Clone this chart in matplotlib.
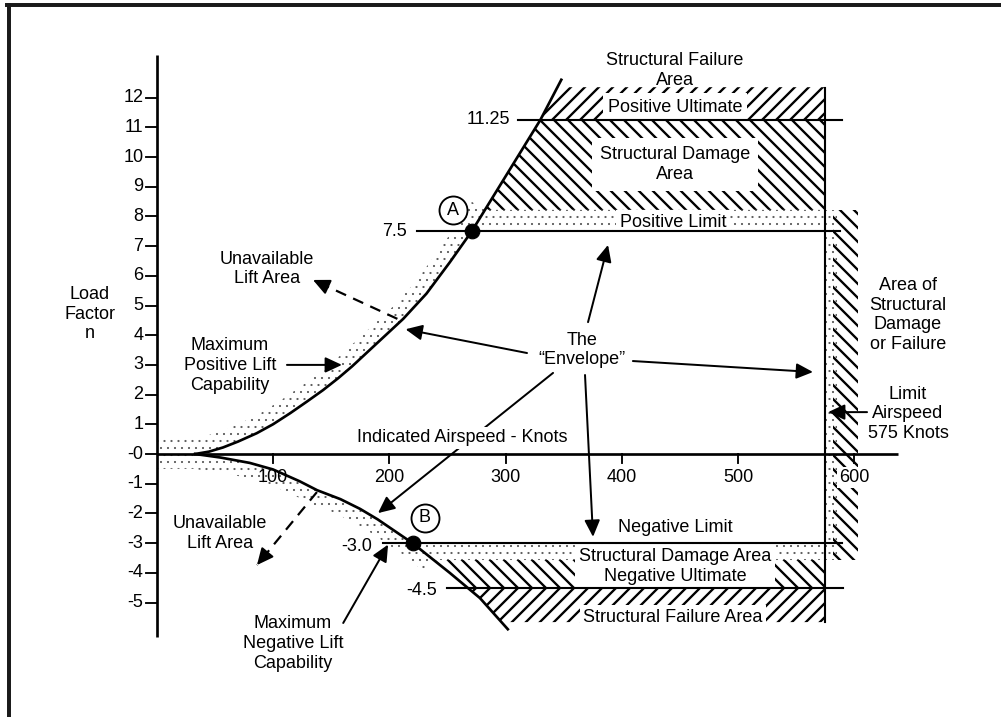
import numpy as np
import matplotlib
matplotlib.use("Agg")
import matplotlib.pyplot as plt
from matplotlib.patches import Polygon, FancyArrowPatch
from matplotlib.lines import Line2D

plt.rcParams['font.family'] = ['Liberation Sans', 'DejaVu Sans']
plt.rcParams['hatch.linewidth'] = 2.0

# ---------------- data ----------------
y_ticks = [12, 11, 10, 9, 8, 7, 6, 5, 4, 3, 2, 1, 0, -1, -2, -3, -4, -5]
y_tick_labels = ['12', '11', '10', '9', '8', '7', '6', '5', '4', '3', '2', '1',
                 '-0', '-1', '-2', '-3', '-4', '-5']
x_ticks = [100, 200, 300, 400, 500, 600]
x_tick_labels = ['100', '200', '300', '400', '500', '600']

# maximum positive lift capability (knots, load factor)
pos_V = [33, 45, 57, 70, 86, 100, 115, 129, 143, 156, 168, 190, 212, 232, 252, 271, 330, 348]
pos_n = [0, 0.08, 0.22, 0.42, 0.70, 1.0, 1.38, 1.76, 2.15, 2.55, 2.95, 3.75, 4.55,
         5.4, 6.45, 7.5, 11.25, 12.6]
# maximum negative lift capability
neg_V = [33, 55, 80, 100, 123, 138, 158, 175, 190, 205, 220, 236, 252, 278, 302]
neg_n = [0, -0.12, -0.30, -0.52, -0.92, -1.22, -1.52, -1.85, -2.2, -2.6, -3.0, -3.5,
         -4.0, -4.85, -5.9]

pos_limit = 7.5
pos_ultimate = 11.25
neg_limit = -3.0
neg_ultimate = -4.5
limit_airspeed = 575
point_A = (271, 7.5)
point_B = (220, -3.0)

# ---------------- layout ----------------
DPI = 84
W, H = 1001, 717
X0PX, XS = 156.75, 1.1625     # pixel of V=0, pixels per knot
Y0PX, YS = 454.0, 29.7        # pixel row of n=0, pixels per unit n
FS = 15.4

fig = plt.figure(figsize=(W / DPI, H / DPI), dpi=DPI)
ax = fig.add_axes([0, 0, 1, 1])
ax.set_xlim(-X0PX / XS, (W - X0PX) / XS)
ax.set_ylim(-(H - Y0PX) / YS, Y0PX / YS)
ax.axis('off')

# outer frame (top and left edges visible)
fig.add_artist(Line2D([7 / W, 1], [1 - 5 / H, 1 - 5 / H], transform=fig.transFigure,
                      color='#1a1a1a', lw=3.4))
fig.add_artist(Line2D([9 / W, 9 / W], [0, 1 - 5 / H], transform=fig.transFigure,
                      color='#1a1a1a', lw=3.4))

band_top = 8.22      # top of positive limit stipple band
band_bot = -3.57     # bottom of negative limit stipple band
hatch_top = 12.35
hatch_bot = -5.66
LW_MAIN = 2.3
LW_LINE = 1.8
STIP = '#555555'


def curve_segment(Vs, ns, n_lo, n_hi):
    Vs, ns = np.asarray(Vs, float), np.asarray(ns, float)
    o = np.argsort(ns)
    nsrt, Vsrt = ns[o], Vs[o]
    inside = (nsrt > n_lo) & (nsrt < n_hi)
    return (np.r_[np.interp(n_lo, nsrt, Vsrt), Vsrt[inside], np.interp(n_hi, nsrt, Vsrt)],
            np.r_[n_lo, nsrt[inside], n_hi])


def offset_curve(Vs, ns, width_px):
    P = ax.transData.transform(np.c_[Vs, ns])
    T = np.gradient(P, axis=0)
    T /= np.linalg.norm(T, axis=1)[:, None]
    N = np.c_[-T[:, 1], T[:, 0]]
    return ax.transData.inverted().transform(P + width_px * N)


def hatch_poly(verts, hatch, z=2):
    p = Polygon(verts, closed=True, facecolor='none', edgecolor='black', lw=0,
                hatch=hatch, zorder=z)
    ax.add_patch(p)


def stipple_poly(verts, z=1):
    p = Polygon(verts, closed=True, facecolor='none', edgecolor=STIP, lw=0,
                hatch='..', zorder=z)
    try:
        p.set_hatch_linewidth(0.6)
    except Exception:
        pass
    ax.add_patch(p)


# ---------------- stipple bands ----------------
sv, sn = curve_segment(pos_V, pos_n, 0, band_top)
q = offset_curve(sv, sn, 16)
stipple_poly([(0, 0)] + list(zip(sv, sn)) + [tuple(p) for p in q[::-1]] + [(0, q[0, 1])])

sv, sn = curve_segment(neg_V, neg_n, band_bot, 0)
q = offset_curve(sv, sn, 15)
stipple_poly(list(zip(sv, sn)) + [(0, 0), (0, q[-1, 1])] + [tuple(p) for p in q[::-1]])

sv, sn = curve_segment(pos_V, pos_n, pos_limit, band_top)
stipple_poly(list(zip(sv, sn)) + [(limit_airspeed, band_top), (limit_airspeed, pos_limit)])
sv, sn = curve_segment(neg_V, neg_n, band_bot, neg_limit)
stipple_poly(list(zip(sv, sn)) + [(limit_airspeed, neg_limit), (limit_airspeed, band_bot)])
stipple_poly([(limit_airspeed, band_bot), (limit_airspeed, band_top),
              (limit_airspeed + 10, band_top), (limit_airspeed + 10, band_bot)])

# ---------------- hatched areas ----------------
H_FWD, H_BACK = '//', '\\\\'
sv, sn = curve_segment(pos_V, pos_n, pos_ultimate, hatch_top)
hatch_poly(list(zip(sv, sn)) + [(limit_airspeed, hatch_top), (limit_airspeed, pos_ultimate)], H_FWD)
sv, sn = curve_segment(pos_V, pos_n, band_top, pos_ultimate)
hatch_poly(list(zip(sv, sn)) + [(limit_airspeed, pos_ultimate), (limit_airspeed, band_top)], H_BACK)
sv, sn = curve_segment(neg_V, neg_n, neg_ultimate, band_bot)
hatch_poly(list(zip(sv, sn)) + [(limit_airspeed, band_bot), (limit_airspeed, neg_ultimate)], H_BACK)
sv, sn = curve_segment(neg_V, neg_n, hatch_bot, neg_ultimate)
hatch_poly(list(zip(sv, sn)) + [(limit_airspeed, neg_ultimate), (limit_airspeed, hatch_bot)], H_FWD)
hatch_poly([(limit_airspeed + 7, band_bot), (limit_airspeed + 7, band_top),
            (limit_airspeed + 28, band_top), (limit_airspeed + 28, band_bot)], H_BACK)

# ---------------- axes ----------------
ax.plot([0, 0], [-6.16, 13.43], color='black', lw=LW_MAIN, zorder=6, solid_capstyle='butt')
ax.plot([0, 637.6], [0, 0], color='black', lw=LW_MAIN, zorder=6, solid_capstyle='butt')
for t, lab in zip(y_ticks, y_tick_labels):
    ax.plot([-9, 0], [t, t], color='black', lw=1.6, zorder=6)
    ax.text(-11.5, t, lab, ha='right', va='center', fontsize=FS, zorder=7)
for t, lab in zip(x_ticks, x_tick_labels):
    ax.plot([t, t], [0, -0.3], color='black', lw=1.6, zorder=6)
    box = dict(facecolor='white', edgecolor='none', pad=1.5) if t == 600 else None
    ax.text(t, -0.8, lab, ha='center', va='center', fontsize=FS, zorder=7, bbox=box)

# ---------------- curves and limit lines ----------------
ax.plot(pos_V, pos_n, color='black', lw=LW_MAIN, zorder=6, solid_joinstyle='round')
ax.plot(neg_V, neg_n, color='black', lw=LW_MAIN, zorder=6, solid_joinstyle='round')
ax.plot([224, 587.7], [pos_limit] * 2, color='black', lw=LW_LINE, zorder=6)
ax.plot([311, 589.5], [pos_ultimate] * 2, color='black', lw=LW_LINE, zorder=6)
ax.plot([195, 589.5], [neg_limit] * 2, color='black', lw=LW_LINE, zorder=6)
ax.plot([249.7, 590.4], [neg_ultimate] * 2, color='black', lw=LW_LINE, zorder=6)
ax.plot([limit_airspeed] * 2, [hatch_bot, 12.32], color='black', lw=LW_LINE, zorder=6)

ax.text(215.3, pos_limit, '7.5', ha='right', va='center', fontsize=FS, zorder=7)
ax.text(303.8, pos_ultimate, '11.25', ha='right', va='center', fontsize=FS, zorder=7)
ax.text(185.2, neg_limit - 0.1, '-3.0', ha='right', va='center', fontsize=FS, zorder=7)
ax.text(241, neg_ultimate - 0.1, '-4.5', ha='right', va='center', fontsize=FS, zorder=7)

# points A and B
for (pv, pn), (cv, cn), lab in [(point_A, (254.9, 8.215), 'A'), (point_B, (230.7, -2.15), 'B')]:
    ax.plot([pv], [pn], 'o', color='black', ms=12.5, zorder=8)
    ax.plot([cv], [cn], 'o', mfc='white', mec='black', mew=1.6, ms=24, zorder=8)
    ax.text(cv, cn, lab, ha='center', va='center', fontsize=FS, zorder=9)


# ---------------- arrows ----------------
def arrow(tail, head, ls='-'):
    style = '-|>,head_length=0.6,head_width=0.28'
    if ls == '-':
        a = FancyArrowPatch(tail, head, arrowstyle=style, mutation_scale=20, lw=1.7,
                            color='black', shrinkA=0, shrinkB=0, zorder=4)
        ax.add_patch(a)
    else:
        ax.plot([tail[0], head[0]], [tail[1], head[1]], color='black', lw=1.9,
                ls=(0, (5, 3.5)), zorder=4)
        mid = (tail[0] + 0.88 * (head[0] - tail[0]), tail[1] + 0.88 * (head[1] - tail[1]))
        a = FancyArrowPatch(mid, head, arrowstyle=style, mutation_scale=20, lw=1.7,
                            color='black', shrinkA=0, shrinkB=0, zorder=4)
        ax.add_patch(a)


arrow((318.5, 3.4), (214, 4.2))
arrow((371.0, 4.44), (388.2, 7.04))
arrow((409.6, 3.13), (564.5, 2.76))
arrow((368.4, 2.66), (375.3, -2.79))
arrow((340.9, 2.73), (190.3, -1.99))
arrow((207, 4.55), (134.4, 5.86), ls='--')
arrow((137.8, -1.28), (86.2, -3.74), ls='--')
arrow((112, 3.0), (159.3, 3.0))
arrow((160.4, -5.69), (199, -3.05))
arrow((611, 1.41), (577.5, 1.41))


# ---------------- labels ----------------
def label(x, y, s, pad=None, **kw):
    box = dict(facecolor='white', edgecolor='none', pad=pad) if pad is not None else None
    ax.text(x, y, s, ha='center', va='center', fontsize=FS, linespacing=1.22,
            bbox=box, zorder=5, **kw)


label(-57.4, 4.71, 'Load\nFactor\nn')
label(445.8, 12.9, 'Structural Failure\nArea')
label(445.8, 11.68, 'Positive Ultimate', pad=4.5)
label(445.8, 9.76, 'Structural Damage\nArea', pad=7)
label(444, 7.81, 'Positive Limit', pad=3)
label(646.2, 4.68, 'Area of\nStructural\nDamage\nor Failure')
label(646.2, 1.35, 'Limit\nAirspeed\n575 Knots')
label(365.8, 3.5, 'The\n\u201cEnvelope\u201d', pad=2)
label(262.6, 0.54, 'Indicated Airspeed - Knots', pad=2)
label(445.8, -2.46, 'Negative Limit')
label(445.8, -3.8, 'Structural Damage Area\nNegative Ultimate', pad=3)
label(444, -5.49, 'Structural Failure Area', pad=3)
label(95, 6.23, 'Unavailable\nLift Area')
label(54.4, -2.69, 'Unavailable\nLift Area')
label(63, 2.98, 'Maximum\nPositive Lift\nCapability')
label(117.2, -6.38, 'Maximum\nNegative Lift\nCapability')

fig.savefig('out.png', dpi=DPI, facecolor='white')
